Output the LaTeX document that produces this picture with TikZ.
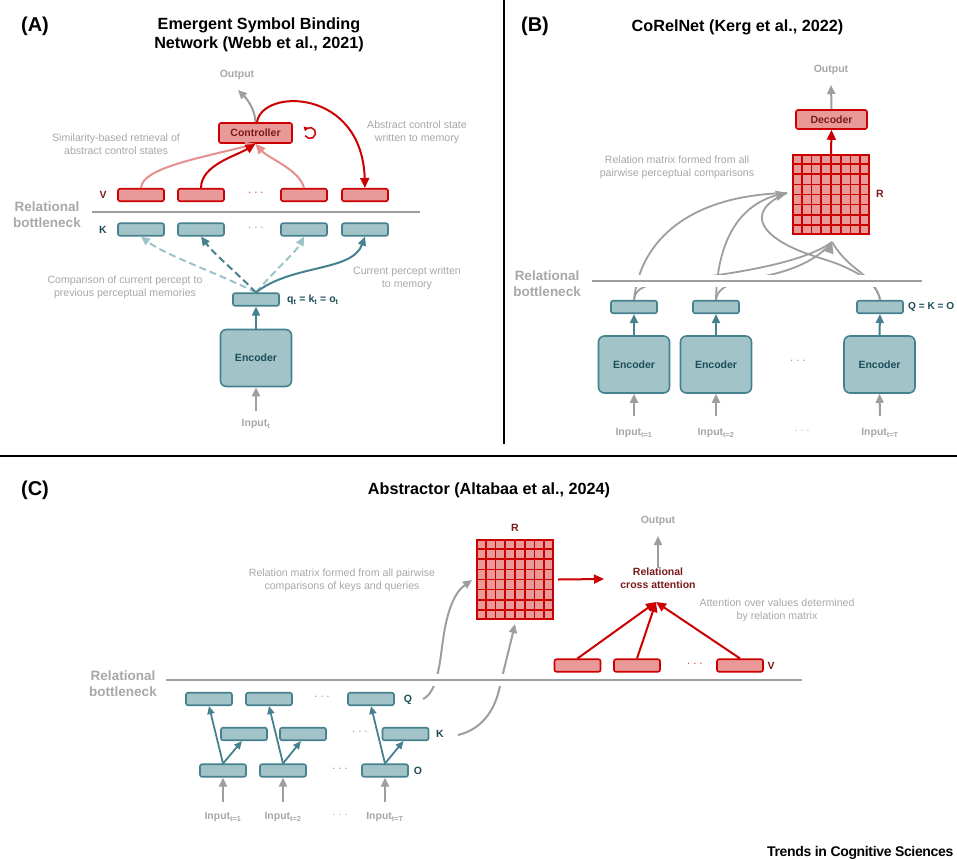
\documentclass[tikz,border=0pt]{standalone}
\usepackage{fontspec}
\setmainfont{Liberation Sans}
\usetikzlibrary{arrows.meta,calc}
\definecolor{rb}{HTML}{CC0000}
\definecolor{rf}{HTML}{EA9999}
\definecolor{rl}{HTML}{E68F8F}
\definecolor{rt}{HTML}{7A1A1A}
\definecolor{tb}{HTML}{45818E}
\definecolor{tf}{HTML}{A2C4C9}
\definecolor{tl}{HTML}{9CC3CA}
\definecolor{tt}{HTML}{1B4D59}
\definecolor{gl}{HTML}{9E9E9E}
\definecolor{gt}{HTML}{A8A8A8}
\tikzset{
 redbox/.style={draw=rb,fill=rf,line width=1.6pt,rounded corners=2pt,minimum width=46pt,minimum height=12.5pt,inner sep=0pt,text=rt,font=\fontsize{10.5}{12}\selectfont\bfseries},
 tealbox/.style={draw=tb,fill=tf,line width=1.6pt,rounded corners=2pt,minimum width=46pt,minimum height=12.5pt,inner sep=0pt,text=tt,font=\fontsize{10.5}{12}\selectfont\bfseries},
 encbox/.style={tealbox,minimum width=71pt,minimum height=57pt,rounded corners=6pt},
 ann/.style={text=gt,font=\fontsize{10.6}{13}\selectfont,align=center,inner sep=0pt},
 bneck/.style={text=gt,font=\fontsize{13.5}{16}\selectfont\bfseries,align=center,inner sep=0pt},
 ttl/.style={font=\fontsize{16.2}{19}\selectfont\bfseries,align=center,inner sep=0pt},
 plabel/.style={font=\fontsize{20}{22}\selectfont\bfseries,inner sep=0pt},
 gtext/.style={text=gt,font=\fontsize{10.5}{12}\selectfont\bfseries,inner sep=0pt},
 rlab/.style={text=rt,font=\fontsize{10.5}{12}\selectfont\bfseries,inner sep=0pt},
 tlab/.style={text=tt,font=\fontsize{10.5}{12}\selectfont\bfseries,inner sep=0pt},
 dotsn/.style={font=\fontsize{10}{12}\selectfont,inner sep=0pt},
 gar/.style={draw=gl,line width=2pt,-{Triangle[length=9pt,width=8pt]}},
 garb/.style={draw=gl,line width=2pt,-{Triangle[length=11pt,width=10pt]}},
 tar/.style={draw=tb,line width=2pt,-{Triangle[length=9pt,width=8pt]}},
 tarl/.style={draw=tl,line width=2pt,-{Triangle[length=9pt,width=8pt]}},
 rar/.style={draw=rb,line width=2pt,-{Triangle[length=10pt,width=9pt]}},
 rarl/.style={draw=rl,line width=2pt,-{Triangle[length=10pt,width=9pt]}},
 dsh/.style={dash pattern=on 7pt off 4pt},
 bline/.style={draw=gl,line width=2pt,preaction={draw=white,line width=12pt}},
 relmat/.style={draw=rb,fill=rf,line width=1.8pt,minimum width=76pt,minimum height=79pt,inner sep=0pt},
}
\begin{document}
\begin{tikzpicture}[x=1pt,y=-1pt]
\useasboundingbox[fill=white] (0,0) rectangle (957,859);

% dividers
\draw[line width=2pt] (504,0) -- (504,444);
\draw[line width=2pt] (0,456) -- (957,456);

%%%%%%%%%%%%%%%% Panel A
\node[plabel] (pA) at (35,26) {(A)};
\node[ttl] (tA) at (259,34.5) {Emergent Symbol Binding\\Network (Webb et al., 2021)};
\node[gtext] (outA) at (237,75) {Output};
\coordinate (outAt) at (238,90);
\node[redbox,minimum width=73pt,minimum height=20pt] (ctrl) at (255.5,133) {Controller};
\node[ann] (annA1) at (116,144.5) {Similarity-based retrieval of\\abstract control states};
\node[ann] (annA2) at (417,132.5) {Abstract control state\\written to memory};
\node[rlab] (Vl) at (103,195) {V};
\node[redbox] (v1) at (141,195) {};
\node[redbox] (v2) at (201,195) {};
\node[redbox] (v3) at (304,195) {};
\node[redbox] (v4) at (365,195) {};
\node[dotsn,text=rb] (vdots) at (256,194) {· · ·};
\node[bneck] (bnA) at (47,215) {Relational\\bottleneck};
\coordinate (bA1) at (92,212);
\coordinate (bA2) at (420,212);
\node[tlab] (Kl) at (103,229.5) {K};
\node[tealbox] (k1) at (141,229.5) {};
\node[tealbox] (k2) at (201,229.5) {};
\node[tealbox] (k3) at (304,229.5) {};
\node[tealbox] (k4) at (365,229.5) {};
\node[dotsn,text=tb] (kdots) at (256,228.5) {· · ·};
\node[tealbox] (q) at (256,299.5) {};
\node[tlab,anchor=west] (qlab) at (287,300) {q\textsubscript{t} = k\textsubscript{t} = o\textsubscript{t}};
\node[encbox] (enc) at (256,358) {Encoder};
\node[gtext] (inA) at (256,424) {Input\textsubscript{t}};
\coordinate (inAt) at (256,411);
\node[ann] (annA3) at (125,287.5) {Comparison of current percept to\\previous perceptual memories};
\node[ann] (annA4) at (407,278.5) {Current percept written\\to memory};
% loop symbol
\coordinate (loopc) at (310,133);
\draw[rb,line width=1.5pt,-{Triangle[length=4pt,width=5pt]}] (loopc) ++(150:5.5) arc[start angle=150,end angle=-160,radius=5.5];

\draw[bline] (bA1) -- (bA2);
\draw[gar] (inAt) -- (enc.south);
\draw[tar] (enc.north) -- (q.south);
\draw[gar] (ctrl.north) .. controls (255,110) and (248,100) .. (outAt);
\draw[rarl] (v1.north) .. controls (142,168) and (200,158) .. (ctrl.south);
\draw[rarl] (v3.north) .. controls (300,170) and (268,158) .. (ctrl.south);
\draw[rar] (v2.north) .. controls (201,165) and (236,156) .. (ctrl.south);
\draw[rar] ($(ctrl.north)+(1.5,0)$) .. controls (262,88) and (362,88) .. (v4.north);
\draw[tarl,dsh] (q.north) .. controls (215,272) and (165,255) .. (k1.south);
\draw[tarl,dsh] (q.north) .. controls (275,270) and (296,252) .. (k3.south);
\draw[tar,dsh] (q.north) .. controls (236,272) and (214,254) .. (k2.south);
\draw[tar] (q.north) .. controls (292,264) and (352,272) .. (k4.south);

%%%%%%%%%%%%%%%% Panel B
\node[plabel] (pB) at (535,26) {(B)};
\node[ttl] (tB) at (737.5,27) {CoRelNet (Kerg et al., 2022)};
\node[gtext] (outB) at (831,70) {Output};
\coordinate (outBt) at (831,85);
\node[redbox,minimum width=71pt,minimum height=19pt] (dec) at (831.5,119.5) {Decoder};
\node[relmat] (RB) at (831,194.5) {};
\foreach \i in {1,...,7}{
 \draw[rb,line width=1.7pt] ($(RB.north west)!\i/8!(RB.north east)$) -- ($(RB.south west)!\i/8!(RB.south east)$);
 \draw[rb,line width=1.7pt] ($(RB.north west)!\i/8!(RB.south west)$) -- ($(RB.north east)!\i/8!(RB.south east)$);
}
\node[rlab] (RBl) at (880,194) {R};
\node[ann] (annB) at (677,167.5) {Relation matrix formed from all\\pairwise perceptual comparisons};
\node[bneck] (bnB) at (547,283.5) {Relational\\bottleneck};
\coordinate (bB1) at (592,281);
\coordinate (bB2) at (922,281);
\node[tealbox] (bq1) at (634,307) {};
\node[tealbox] (bq2) at (716,307) {};
\node[tealbox] (bq3) at (880,307) {};
\node[tlab,anchor=west,font=\fontsize{10.1}{12}\selectfont\bfseries] (qkoB) at (908,307) {Q = K = O};
\node[encbox] (be1) at (634,364.5) {Encoder};
\node[encbox] (be2) at (716,364.5) {Encoder};
\node[encbox] (be3) at (879.5,364.5) {Encoder};
\node[dotsn,text=tb] (bdots) at (798,362) {· · ·};
\node[gtext] (inB1) at (634,433) {Input\textsubscript{t=1}};
\node[gtext] (inB2) at (716,433) {Input\textsubscript{t=2}};
\node[gtext] (inB3) at (880,433) {Input\textsubscript{t=T}};
\node[dotsn,text=gt] (bdots2) at (802,432) {· · ·};
\coordinate (inB1t) at (634,416);
\coordinate (inB2t) at (716,416);
\coordinate (inB3t) at (880,416);
\coordinate (RBleft) at (787,193);
\coordinate (RBbot) at (832,242);

\draw[gl,line width=1.8pt] (bq1.north) .. controls (640,240) and (690,195) .. (RBleft);
\draw[gl,line width=1.8pt] (bq2.north) .. controls (717,240) and (740,200) .. (RBleft);
\draw[gl,line width=1.8pt] (bq3.north) .. controls (878,285) and (860,270) .. (820,258) .. controls (760,240) and (742,212) .. (RBleft);
\draw[gl,line width=1.8pt] (bq1.north) .. controls (635,288) and (645,284) .. (680,280) .. controls (740,273) and (805,262) .. (RBbot);
\draw[gl,line width=1.8pt] (bq2.north) .. controls (717,290) and (725,284) .. (750,279) .. controls (790,272) and (815,262) .. (RBbot);
\draw[gl,line width=1.8pt] (bq3.north) .. controls (878,288) and (868,278) .. (855,268) .. controls (845,260) and (838,252) .. (RBbot);
\draw[garb] ($(RBleft)+(-6,1.5)$) -- (RBleft);
\draw[garb] ($(RBbot)+(-2,6)$) -- (RBbot);
\draw[bline] (bB1) -- (bB2);
\draw[gar] (dec.north) -- (outBt);
\draw[rar] (RB.north) -- (dec.south);
\foreach \k in {1,2,3}{
 \draw[gar] (inB\k t) -- (be\k.south);
 \draw[tar] (be\k.north) -- (bq\k.south);
}

%%%%%%%%%%%%%%%% Panel C
\node[plabel] (pC) at (35,490) {(C)};
\node[ttl] (tC) at (489,490) {Abstractor (Altabaa et al., 2024)};
\node[rlab] (RCl) at (515,528) {R};
\node[relmat] (RC) at (515,579.5) {};
\foreach \i in {1,...,7}{
 \draw[rb,line width=1.7pt] ($(RC.north west)!\i/8!(RC.north east)$) -- ($(RC.south west)!\i/8!(RC.south east)$);
 \draw[rb,line width=1.7pt] ($(RC.north west)!\i/8!(RC.south west)$) -- ($(RC.north east)!\i/8!(RC.south east)$);
}
\node[gtext] (outC) at (658,521) {Output};
\coordinate (outCt) at (658,536);
\node[rlab,align=center,font=\fontsize{10.5}{13}\selectfont\bfseries] (rca) at (658,578.5) {Relational\\cross attention};
\coordinate (rcab) at (656,602);
\coordinate (rcal) at (604,579);
\node[ann] (annC1) at (342,580.5) {Relation matrix formed from all pairwise\\comparisons of keys and queries};
\node[ann] (annC2) at (777,610.5) {Attention over values determined\\by relation matrix};
\node[redbox] (cv1) at (577.5,665.5) {};
\node[redbox] (cv2) at (637,665.5) {};
\node[redbox] (cv3) at (740,665.5) {};
\node[dotsn,text=rb] (cvdots) at (695,664.5) {· · ·};
\node[rlab] (cvl) at (771,666) {V};
\node[bneck] (bnC) at (123,683.5) {Relational\\bottleneck};
\coordinate (bC1) at (166,680);
\coordinate (bC2) at (802,680);
% Q row
\node[tealbox] (cq1) at (209,699) {};
\node[tealbox] (cq2) at (269,699) {};
\node[tealbox] (cq3) at (371,699) {};
\node[dotsn,text=tb] (cqdots) at (322,698) {· · ·};
\node[tlab] (cql) at (408,699.5) {Q};
% K row
\node[tealbox] (ck1) at (244,734) {};
\node[tealbox] (ck2) at (303,734) {};
\node[tealbox] (ck3) at (405.5,734) {};
\node[dotsn,text=tb] (ckdots) at (360,733) {· · ·};
\node[tlab] (ckl) at (440,734) {K};
% O row
\node[tealbox] (co1) at (223,770.5) {};
\node[tealbox] (co2) at (283,770.5) {};
\node[tealbox] (co3) at (385,770.5) {};
\node[dotsn,text=tb] (codots) at (340,769.5) {· · ·};
\node[tlab] (col) at (418,771) {O};
\node[gtext] (inC1) at (223,817) {Input\textsubscript{t=1}};
\node[gtext] (inC2) at (283,817) {Input\textsubscript{t=2}};
\node[gtext] (inC3) at (385,817) {Input\textsubscript{t=T}};
\node[dotsn,text=gt] (cidots) at (340,816) {· · ·};
\coordinate (inC1t) at (223,802);
\coordinate (inC2t) at (283,802);
\coordinate (inC3t) at (385,802);
\coordinate (cQs) at (423,699);
\coordinate (cKs) at (458,735);
\coordinate (RCleft) at (472,580);
\coordinate (RCbot) at (515,624);

\draw[gar] (cQs) .. controls (438,692) and (440,660) .. (443,640) .. controls (447,610) and (455,592) .. (RCleft);
\draw[gar] (cKs) .. controls (480,730) and (494,712) .. (499,690) .. controls (505,665) and (510,645) .. (RCbot);
\draw[bline] (bC1) -- (bC2);
\draw[gar] (rca.north) -- (outCt);
\draw[rar] ($(RC.east)+(4,0)$) -- (rcal);
\draw[rar] (cv1.north) -- (rcab);
\draw[rar] (cv2.north) -- (rcab);
\draw[rar] (cv3.north) -- (rcab);
\foreach \k in {1,2,3}{
 \draw[tar,line width=1.8pt,-{Triangle[length=8pt,width=7pt]}] (co\k.north) -- (cq\k.south);
 \draw[tar,line width=1.8pt,-{Triangle[length=8pt,width=7pt]}] (co\k.north) -- ($(ck\k.south)+(-2,0)$);
 \draw[gar] (inC\k t) -- (co\k.south);
}

\node[anchor=base west,font=\fontsize{14}{16}\selectfont\bfseries,inner sep=0pt] (brand) at (767,856) {\addfontfeatures{LetterSpace=-2.5}Trends in Cognitive Sciences};
\end{tikzpicture}
\end{document}
